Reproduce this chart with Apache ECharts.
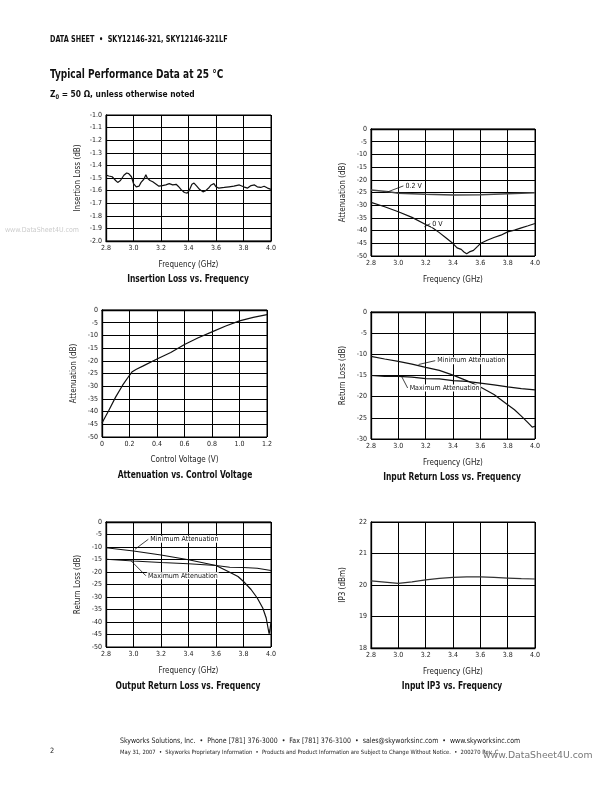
<!DOCTYPE html>
<html><head><meta charset="utf-8">
<script src="https://cdn.jsdelivr.net/npm/echarts@6/dist/echarts.min.js"></script>
<style>html,body{margin:0;padding:0;background:#fff}#c{width:612px;height:792px}</style>
</head><body><div id="c"></div>
<script>
// ---------- data ----------
const freqTicks = ['2.8','3.0','3.2','3.4','3.6','3.8','4.0'];

const ilFreq = [2.80,2.82,2.845,2.87,2.885,2.905,2.93,2.95,2.965,2.985,3.00,3.02,3.04,3.055,3.075,3.09,3.10,3.12,3.14,3.16,3.185,3.21,3.235,3.26,3.285,3.31,3.325,3.345,3.37,3.39,3.405,3.425,3.44,3.46,3.48,3.505,3.525,3.55,3.565,3.585,3.60,3.62,3.66,3.695,3.73,3.77,3.80,3.83,3.855,3.88,3.90,3.925,3.95,3.975,4.00];
const ilVals = [-1.476,-1.484,-1.49,-1.52,-1.535,-1.52,-1.478,-1.46,-1.465,-1.49,-1.545,-1.57,-1.565,-1.535,-1.51,-1.475,-1.50,-1.52,-1.53,-1.545,-1.565,-1.56,-1.555,-1.545,-1.555,-1.55,-1.565,-1.59,-1.615,-1.62,-1.60,-1.55,-1.54,-1.565,-1.59,-1.61,-1.60,-1.575,-1.555,-1.545,-1.57,-1.58,-1.575,-1.57,-1.565,-1.555,-1.57,-1.58,-1.56,-1.555,-1.57,-1.575,-1.565,-1.58,-1.59];

const attnFreq0V = [2.8,2.9,3.0,3.1,3.2,3.25,3.3,3.35,3.4,3.43,3.46,3.48,3.5,3.52,3.55,3.58,3.6,3.65,3.7,3.75,3.8,3.85,3.9,3.95,4.0];
const attn0V = [-28.9,-30.6,-32.6,-34.8,-37.6,-38.9,-40.8,-42.9,-45.1,-46.8,-47.4,-48.4,-49.1,-48.4,-47.8,-46.2,-45.1,-43.8,-42.7,-41.8,-40.5,-39.8,-38.9,-38.1,-37.2];
const attnFreq02V = [2.8,2.93,3.0,3.2,3.4,3.6,3.8,4.0];
const attn02V = [-24.0,-24.7,-25.3,-25.7,-26.0,-25.9,-25.5,-25.1];

const ctrlV = [0,0.05,0.1,0.15,0.2,0.22,0.25,0.3,0.4,0.5,0.6,0.7,0.8,0.9,1.0,1.1,1.2];
const attnVsV = [-44.5,-39.5,-34.2,-29.6,-25.7,-24.3,-23.3,-22.0,-19.3,-16.7,-13.6,-10.9,-8.6,-6.3,-4.3,-2.9,-1.8];

const irlFreqMin = [2.8,2.9,3.0,3.1,3.2,3.3,3.4,3.5,3.6,3.7,3.8,3.85,3.9,3.95,3.98,4.0];
const irlMin = [-10.5,-11.1,-11.65,-12.3,-13.1,-13.8,-14.9,-16.2,-17.7,-19.5,-21.9,-23.1,-24.6,-26.2,-27.2,-27.0];
const irlFreqMax = [2.8,2.9,3.0,3.1,3.2,3.3,3.4,3.5,3.6,3.7,3.8,3.9,4.0];
const irlMax = [-15.0,-15.2,-15.2,-15.4,-15.75,-15.8,-16.2,-16.4,-16.8,-17.2,-17.7,-18.1,-18.4];

const orlFreqMin = [2.8,3.0,3.2,3.4,3.6,3.685,3.76,3.8,3.855,3.9,3.94,3.965,3.976,3.986,3.993,4.0];
const orlMin = [-10.3,-11.6,-13.2,-15.1,-17.4,-19.7,-21.8,-23.8,-27.0,-30.4,-34.4,-38.4,-41.7,-44.7,-43.0,-40.0];
const orlFreqMax = [2.8,3.0,3.2,3.4,3.6,3.7,3.8,3.9,4.0];
const orlMax = [-14.9,-15.6,-16.2,-16.7,-17.4,-18.1,-18.2,-18.5,-19.4];

const ip3Freq = [2.8,2.9,3.0,3.1,3.2,3.3,3.4,3.5,3.6,3.7,3.8,3.9,4.0];
const ip3Vals = [20.13,20.09,20.05,20.10,20.16,20.21,20.24,20.26,20.26,20.24,20.22,20.20,20.19];

// annotation leaders: [from, to] in data units, label at "to"
const lead02V = [[2.915,-24.9],[3.037,-22.4]];
const lead0V = [[3.19,-38.5],[3.233,-37.3]];
const leadIrlMin = [[3.148,-12.4],[3.27,-11.5]];
const leadIrlMax = [[3.026,-15.35],[3.068,-17.95]];
const leadOrlMin = [[3.011,-10.9],[3.108,-6.9]];
const leadOrlMax = [[2.98,-15.4],[3.09,-21.5]];

// ---------- helpers ----------
const FN = "'Liberation Sans Narrow','Arial Narrow','DejaVu Sans Condensed',sans-serif";
const zip = (a,b) => a.map((v,i)=>[v,b[i]]);

const grids = [
  {left:106, top:115, width:165, height:126},
  {left:371, top:129, width:164, height:127},
  {left:102, top:310, width:165, height:127},
  {left:371, top:312, width:164, height:127},
  {left:106, top:522, width:165, height:125},
  {left:371, top:522, width:164, height:126}
];

function xAx(gi, min, max, interval, name, fmt, gap){
  return {type:'value', gridIndex:gi, min, max, interval, name, nameLocation:'middle', nameGap:gap,
    nameTextStyle:{fontFamily:FN, fontSize:8, color:'#222'},
    axisLine:{show:true, lineStyle:{color:'#000', width:1.3}}, axisTick:{show:false},
    axisLabel:{fontFamily:FN, fontSize:7, color:'#222', margin:4, formatter:fmt},
    splitLine:{show:true, lineStyle:{color:'#000', width:1}}};
}
function yAx(gi, min, max, interval, name, fmt, gap){
  return {type:'value', gridIndex:gi, min, max, interval, name, nameLocation:'middle', nameGap:gap, nameRotate:90,
    nameTextStyle:{fontFamily:FN, fontSize:8, color:'#222'},
    axisLine:{show:true, lineStyle:{color:'#000', width:1.3}}, axisTick:{show:false},
    axisLabel:{fontFamily:FN, fontSize:7, color:'#222', margin:4, formatter:fmt},
    splitLine:{show:true, lineStyle:{color:'#000', width:1}}};
}
const f1 = v => Number(v).toFixed(1);
const f0 = v => String(Math.round(v));
const fv = v => (Math.abs(v)<1e-9 ? '0' : Number(v).toFixed(1));

function curve(gi, data, color, width){
  return {type:'line', xAxisIndex:gi, yAxisIndex:gi, data, symbol:'none', smooth:false,
    lineStyle:{color:color||'#111', width:width||1.2}, silent:true, z:5};
}
function leader(gi, pts, text){
  return {type:'line', xAxisIndex:gi, yAxisIndex:gi, data:pts, symbol:'none',
    lineStyle:{color:'#111', width:0.8}, silent:true, z:6,
    endLabel:{show:true, formatter:text, distance:1, fontFamily:FN, fontSize:7, color:'#111',
      backgroundColor:'#fff', padding:[0,1,0,1]}};
}

const xAxes = [
  xAx(0,2.8,4.0,0.2,'Frequency (GHz)',f1,20),
  xAx(1,2.8,4.0,0.2,'Frequency (GHz)',f1,20),
  xAx(2,0,1.2,0.2,'Control Voltage (V)',fv,19),
  xAx(3,2.8,4.0,0.2,'Frequency (GHz)',f1,20),
  xAx(4,2.8,4.0,0.2,'Frequency (GHz)',f1,20),
  xAx(5,2.8,4.0,0.2,'Frequency (GHz)',f1,20)
];
const yAxes = [
  yAx(0,-2.0,-1.0,0.1,'Insertion Loss (dB)',f1,24),
  yAx(1,-50,0,5,'Attenuation (dB)',f0,24),
  yAx(2,-50,0,5,'Attenuation (dB)',f0,24),
  yAx(3,-30,0,5,'Return Loss (dB)',f0,24),
  yAx(4,-50,0,5,'Return Loss (dB)',f0,24),
  yAx(5,18,22,1,'IP3 (dBm)',f0,24)
];

const series = [
  curve(0, zip(ilFreq, ilVals)),
  curve(1, zip(attnFreq02V, attn02V), '#444', 1.5),
  curve(1, zip(attnFreq0V, attn0V)),
  leader(1, lead02V, '0.2 V'),
  leader(1, lead0V, '0 V'),
  curve(2, zip(ctrlV, attnVsV)),
  curve(3, zip(irlFreqMin, irlMin)),
  curve(3, zip(irlFreqMax, irlMax)),
  leader(3, leadIrlMin, 'Minimum Attenuation'),
  leader(3, leadIrlMax, 'Maximum Attenuation'),
  curve(4, zip(orlFreqMin, orlMin)),
  curve(4, zip(orlFreqMax, orlMax)),
  leader(4, leadOrlMin, 'Minimum Attenuation'),
  leader(4, leadOrlMax, 'Maximum Attenuation'),
  curve(5, zip(ip3Freq, ip3Vals), '#333', 1.2)
];

function txt(x, y, text, size, weight, color, align, sx){
  return {type:'text', x, y, scaleX:sx||1, silent:true, style:{text, fill:color||'#111', textAlign:align||'left', textVerticalAlign:'middle',
    font:(weight||'normal')+' '+size+'px '+FN}};
}

const graphic = [
  txt(50, 40, 'DATA SHEET  •  SKY12146-321, SKY12146-321LF', 8.5, 'bold', '#111', 'left', 0.85),
  txt(50, 75, 'Typical Performance Data at 25 °C', 12.5, 'bold', '#111', 'left', 0.8),
  {type:'text', x:50, y:95, scaleX:0.88, silent:true, style:{text:'{a|Z}{b|0}{a| = 50 Ω, unless otherwise noted}', textVerticalAlign:'middle',
    rich:{a:{font:'bold 9.5px '+FN, fill:'#111'}, b:{font:'bold 6.5px '+FN, fill:'#111', padding:[5,0,0,0]}}}},
  txt(188, 279, 'Insertion Loss vs. Frequency', 10.5, 'bold', '#111', 'center', 0.8),
  txt(185, 475, 'Attenuation vs. Control Voltage', 10.5, 'bold', '#111', 'center', 0.8),
  txt(452, 477, 'Input Return Loss vs. Frequency', 10.5, 'bold', '#111', 'center', 0.8),
  txt(188, 686, 'Output Return Loss vs. Frequency', 10.5, 'bold', '#111', 'center', 0.8),
  txt(452, 686, 'Input IP3 vs. Frequency', 10.5, 'bold', '#111', 'center', 0.8),
  txt(79, 230, 'www.DataSheet4U.com', 7, 'normal', '#ccc', 'right'),
  txt(320, 741, 'Skyworks Solutions, Inc.  •  Phone [781] 376-3000  •  Fax [781] 376-3100  •  sales@skyworksinc.com  •  www.skyworksinc.com', 7.5, 'normal', '#222', 'center', 0.93),
  txt(50, 751, '2', 7.3, 'normal', '#222'),
  txt(120, 752, 'May 31, 2007  •  Skyworks Proprietary Information  •  Products and Product Information are Subject to Change Without Notice.  •  200270 Rev. C', 5.8, 'normal', '#222', 'left', 1.0),
  {type:'text', x:483, y:756, silent:true, style:{text:'www.DataSheet4U.com', fill:'#777', textVerticalAlign:'middle', font:"normal 9.3px 'DejaVu Sans',sans-serif"}}
];

const chart = echarts.init(document.getElementById('c'), null, {renderer:'canvas'});
chart.setOption({
  animation:false,
  backgroundColor:'#fff',
  grid: grids.map(g=>Object.assign({containLabel:false, show:true, borderColor:'#000', borderWidth:1}, g)),
  xAxis: xAxes,
  yAxis: yAxes,
  series,
  graphic
});
</script>
</body></html>
